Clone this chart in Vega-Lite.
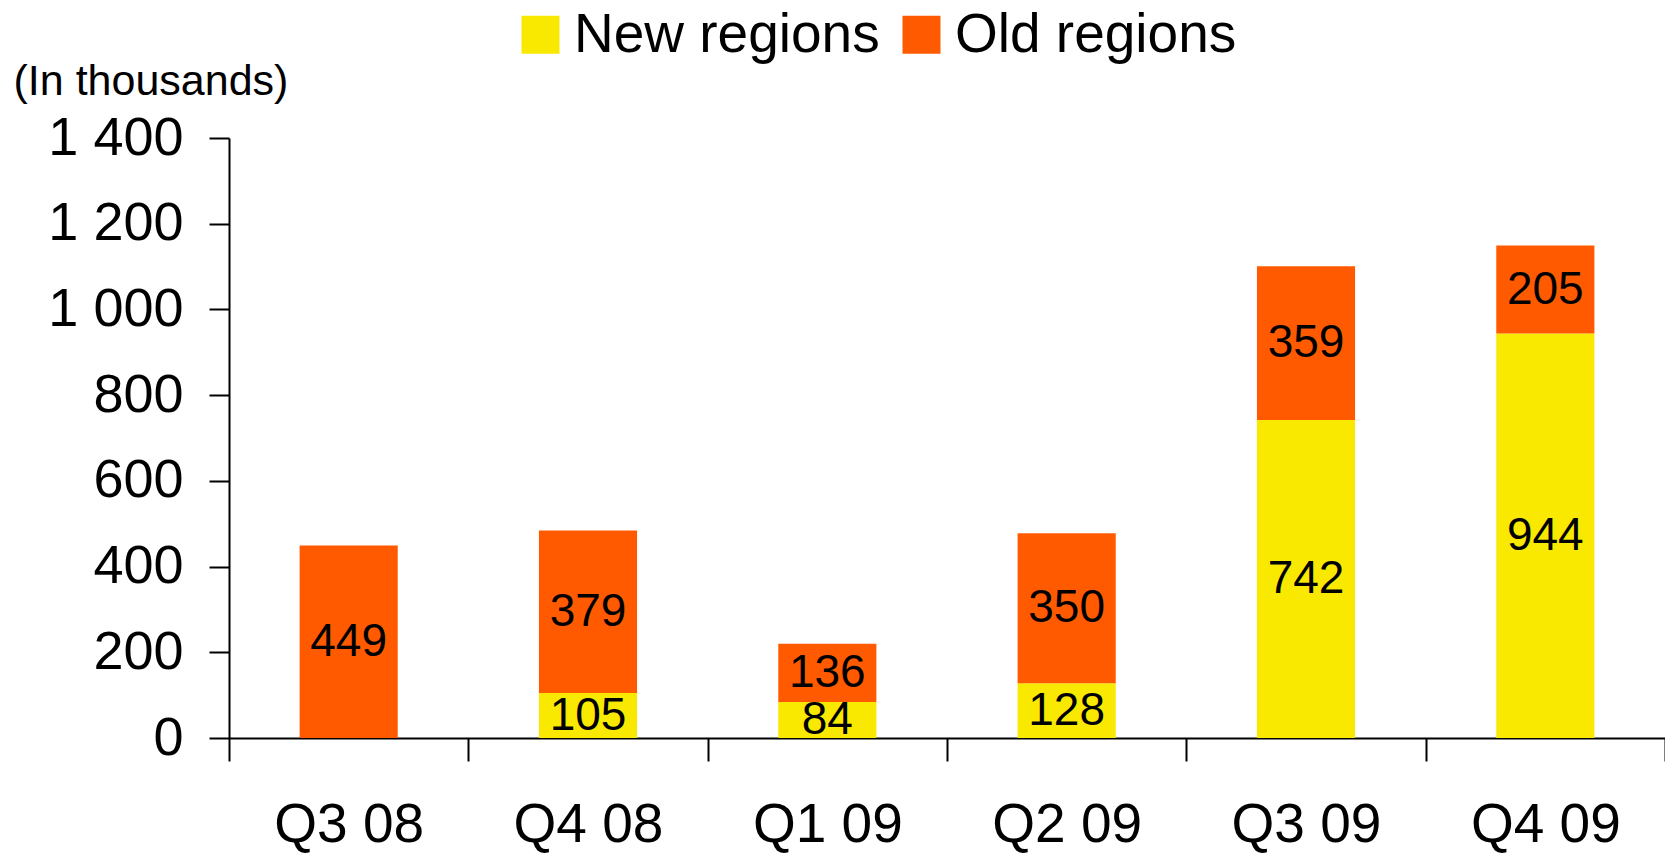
{
  "$schema": "https://vega.github.io/schema/vega-lite/v6.json",
  "autosize": "none",
  "width": 1436,
  "height": 600,
  "padding": {"left": 229, "top": 138, "right": 0, "bottom": 115},
  "background": "white",
  "config": {
    "font": "Liberation Sans",
    "view": {"stroke": null}
  },
  "data": {
    "values": [
      {"quarter": "Q3 08", "region": "Old regions", "value": 449},
      {"quarter": "Q4 08", "region": "New regions", "value": 105},
      {"quarter": "Q4 08", "region": "Old regions", "value": 379},
      {"quarter": "Q1 09", "region": "New regions", "value": 84},
      {"quarter": "Q1 09", "region": "Old regions", "value": 136},
      {"quarter": "Q2 09", "region": "New regions", "value": 128},
      {"quarter": "Q2 09", "region": "Old regions", "value": 350},
      {"quarter": "Q3 09", "region": "New regions", "value": 742},
      {"quarter": "Q3 09", "region": "Old regions", "value": 359},
      {"quarter": "Q4 09", "region": "New regions", "value": 944},
      {"quarter": "Q4 09", "region": "Old regions", "value": 205}
    ]
  },
  "encoding": {
    "x": {
      "field": "quarter",
      "type": "nominal",
      "sort": null,
      "scale": {"paddingInner": 0, "paddingOuter": 0},
      "axis": {
        "title": null,
        "tickBand": "extent",
        "domainColor": "black",
        "domainWidth": 2,
        "tickColor": "black",
        "tickWidth": 2,
        "tickSize": 23,
        "labelAngle": 0,
        "labelFontSize": 55,
        "labelColor": "black",
        "labelPadding": 37
      }
    },
    "y": {
      "field": "value",
      "type": "quantitative",
      "stack": "zero",
      "scale": {"domain": [0, 1400], "nice": false},
      "axis": {
        "values": [0, 200, 400, 600, 800, 1000, 1200, 1400],
        "labelExpr": "replace(format(datum.value, ','), ',', ' ')",
        "grid": false,
        "domainColor": "black",
        "domainWidth": 2,
        "tickColor": "black",
        "tickWidth": 2,
        "tickSize": 20,
        "labelFontSize": 54,
        "labelColor": "black",
        "labelPadding": 26,
        "title": "(In thousands)",
        "titleAngle": 0,
        "titleAlign": "left",
        "titleBaseline": "middle",
        "titleX": -216,
        "titleY": -57,
        "titleFontSize": 43,
        "titleFontWeight": "normal",
        "titleColor": "black"
      }
    }
  },
  "layer": [
    {
      "mark": {"type": "bar", "width": {"band": 0.41}},
      "encoding": {
        "color": {
          "field": "region",
          "type": "nominal",
          "scale": {
            "domain": ["New regions", "Old regions"],
            "range": ["#F9E900", "#FF5A00"]
          },
          "legend": {
            "title": null,
            "orient": "none",
            "direction": "horizontal",
            "legendX": 284,
            "legendY": -131,
            "padding": 0,
            "symbolType": "square",
            "symbolSize": 1444,
            "symbolStrokeWidth": 0,
            "symbolOpacity": 1,
            "labelFontSize": 55,
            "labelColor": "black",
            "labelOffset": 6,
            "columnPadding": 14,
            "labelLimit": 0
          }
        },
        "order": {"field": "region", "sort": "ascending"}
      }
    },
    {
      "mark": {"type": "text", "fontSize": 46, "color": "black", "baseline": "middle", "align": "center"},
      "encoding": {
        "y": {"field": "value", "type": "quantitative", "stack": "zero", "bandPosition": 0.5},
        "detail": {"field": "region"},
        "order": {"field": "region", "sort": "ascending"},
        "text": {"field": "value", "type": "quantitative"}
      }
    }
  ]
}
